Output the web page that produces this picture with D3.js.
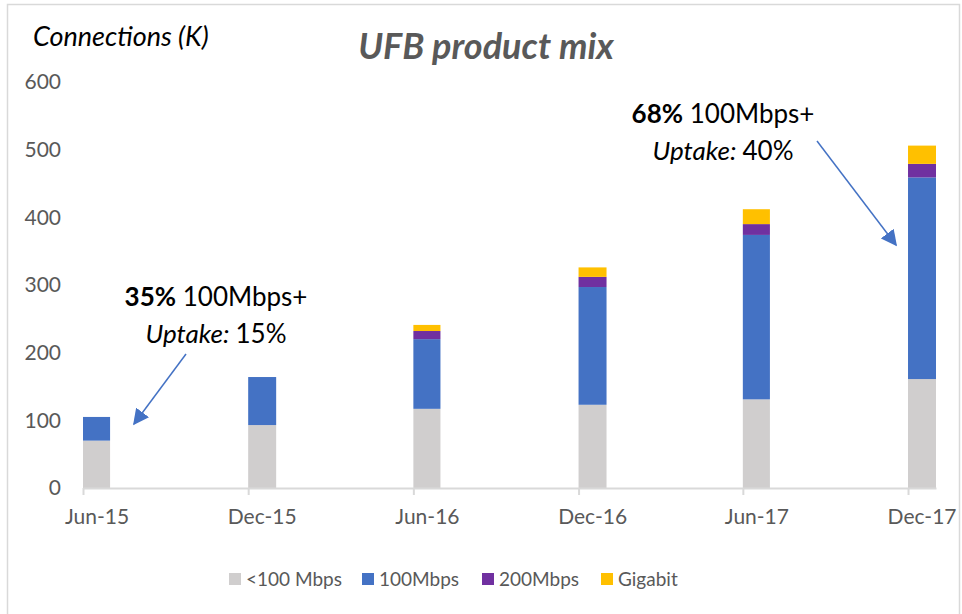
<!DOCTYPE html>
<html>
<head>
<meta charset="utf-8">
<script src="https://cdn.jsdelivr.net/npm/d3@7"></script>
<style>
body{margin:0;background:#fff;}
text{font-family:Lato,"Open Sans",sans-serif;}
</style>
</head>
<body>
<svg id="svg" width="962" height="614"></svg>
<script>
// data
var categories=["Jun-15","Dec-15","Jun-16","Dec-16","Jun-17","Dec-17"];
var below100=[70,93,117,123,131,161];
var mbps100=[35,71,103,174,243,298];
var mbps200=[0,0,12,15,16,20];
var gigabit=[0,0,9,14,22,27];
var seriesNames=["<100 Mbps","100Mbps","200Mbps","Gigabit"];
var yTicks=[0,100,200,300,400,500,600];

var colors=["#d0cece","#4472c4","#7030a0","#ffc000"];

var parse=d3.utcParse("%b-%y");
var rows=categories.map((c,i)=>({cat:c,date:parse(c),s0:below100[i],s1:mbps100[i],s2:mbps200[i],s3:gigabit[i]}));

var svg=d3.select("#svg");

// outer frame
svg.append("rect")
    .attr("x",7.5).attr("y",4.5)
    .attr("width",952).attr("height",620)
    .attr("fill","none").attr("stroke","#d9d9d9").attr("stroke-width",1.5);

// date axis in months, bar spans its month
var x=d3.scaleUtc()
    .domain([parse("Jun-15"),d3.utcMonth.offset(parse("Dec-17"),1)])
    .range([83,936]);
var y=d3.scaleLinear().domain([0,600]).range([488,82]);

var stack=d3.stack().keys(["s0","s1","s2","s3"]);
var layers=stack(rows);

svg.append("g").selectAll("g")
    .data(layers).enter().append("g")
        .attr("fill",(d,i)=>colors[i])
    .selectAll("rect")
    .data(d=>d.filter(p=>p[1]>p[0])).enter().append("rect")
        .attr("x",d=>x(d.data.date))
        .attr("width",d=>x(d3.utcMonth.offset(d.data.date,1))-x(d.data.date))
        .attr("y",d=>y(d[1]))
        .attr("height",d=>y(d[0])-y(d[1]));

// x axis
var halfMonth=(x(d3.utcMonth.offset(parse("Jun-15"),1))-x(parse("Jun-15")))/2;
var xAxis=svg.append("g")
    .attr("transform","translate(0,488)")
    .call(d3.axisBottom(x).tickValues(rows.map(d=>d.date)).tickSize(7).tickSizeOuter(0)
        .tickFormat((d,i)=>categories[i]));
xAxis.select(".domain").attr("stroke","#d9d9d9").attr("stroke-width",2);
xAxis.selectAll(".tick line").attr("stroke","#d9d9d9").attr("stroke-width",2);
xAxis.selectAll(".tick text")
    .attr("x",halfMonth).attr("y",21)
    .attr("fill","#595959").style("font-size","21px");

// y axis
var yAxis=svg.append("g")
    .attr("transform","translate(83,0)")
    .call(d3.axisLeft(y).tickValues(yTicks).tickSize(0).tickPadding(22));
yAxis.select(".domain").remove();
yAxis.selectAll(".tick text").attr("fill","#595959").style("font-size","21px");

// titles
svg.append("text")
    .attr("x",486).attr("y",59)
    .attr("text-anchor","middle")
    .style("font-size","36px").style("font-weight","bold").style("font-style","italic")
    .attr("fill","#595959")
    .text("UFB product mix");

svg.append("text")
    .attr("x",33).attr("y",46)
    .style("font-size","27px").style("font-style","italic")
    .attr("fill","#000")
    .text("Connections (K)");

// annotations
svg.append("defs").append("marker")
    .attr("id","arrow")
    .attr("viewBox","0 0 10 10")
    .attr("refX",9).attr("refY",5)
    .attr("markerWidth",9).attr("markerHeight",9)
    .attr("markerUnits","userSpaceOnUse")
    .attr("orient","auto")
  .append("path")
    .attr("d","M0,0L10,5L0,10z")
    .attr("fill","#4472c4");

function note(cx,y1,pct,up){
    var t=svg.append("text").attr("x",cx).attr("y",y1).attr("text-anchor","middle")
        .style("font-size","26px").attr("fill","#000");
    t.append("tspan").style("font-weight","bold").text(pct);
    t.append("tspan").text(" 100Mbps+");
    var t2=svg.append("text").attr("x",cx).attr("y",y1+37).attr("text-anchor","middle")
        .style("font-size","26px").attr("fill","#000");
    t2.append("tspan").style("font-style","italic").text("Uptake: ");
    t2.append("tspan").text(up);
}
note(216,306,"35%","15%");
note(723,123,"68%","40%");

svg.append("line")
    .attr("x1",186).attr("y1",354).attr("x2",134).attr("y2",424)
    .attr("stroke","#4472c4").attr("stroke-width",1.5)
    .attr("marker-end","url(#arrow)")
    .attr("marker-end","url(#arrow)");
svg.select("#arrow").attr("markerWidth",16).attr("markerHeight",16);
svg.append("line")
    .attr("x1",817).attr("y1",141).attr("x2",896).attr("y2",245)
    .attr("stroke","#4472c4").attr("stroke-width",1.5)
    .attr("marker-end","url(#arrow)");

// legend
var legendX=[229,362,482,601];
var legend=svg.append("g").selectAll("g")
    .data(seriesNames).enter().append("g")
        .attr("transform",(d,i)=>"translate("+legendX[i]+",573)");
legend.append("rect")
    .attr("width",12).attr("height",12)
    .attr("fill",(d,i)=>colors[i]);
legend.append("text")
    .attr("x",17).attr("y",6).attr("dy","0.35em")
    .style("font-size","19px").attr("fill","#595959")
    .text(d=>d);
</script>
</body>
</html>
